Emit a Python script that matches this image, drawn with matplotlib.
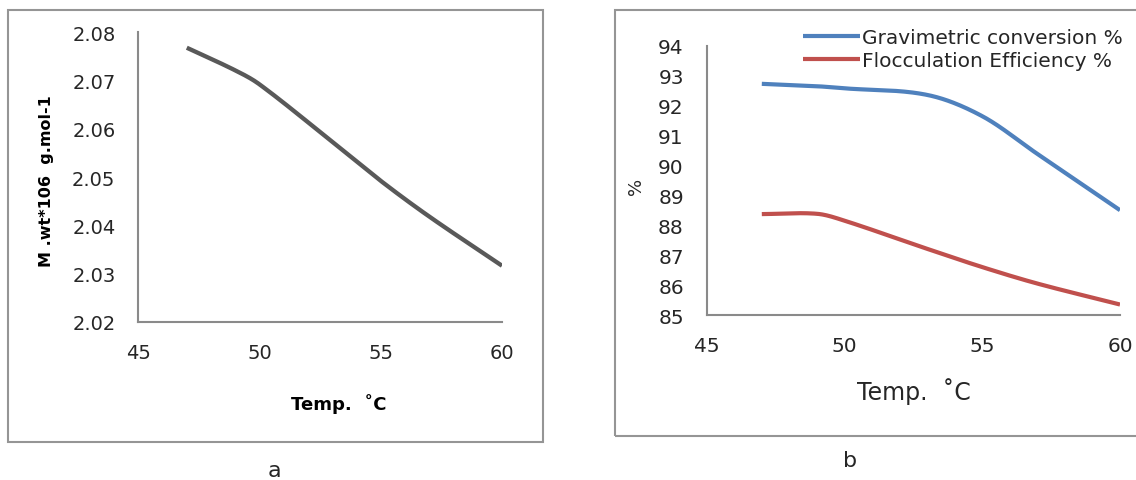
import numpy as np
import matplotlib
matplotlib.use("Agg")
import matplotlib.pyplot as plt
from matplotlib.patches import Rectangle

# ---- data -------------------------------------------------------------
temps_a = [47, 49, 50, 53, 55, 57, 60]
mol_weight = [2.0768, 2.0721, 2.0692, 2.0573, 2.0492, 2.0418, 2.0316]

temps_b = [47, 49, 50, 53, 55, 57, 60]
gravimetric = [92.72, 92.64, 92.57, 92.35, 91.64, 90.38, 88.50]
flocculation = [88.37, 88.38, 88.15, 87.21, 86.60, 86.05, 85.35]

x_ticks = [45, 50, 55, 60]
a_yticks = [2.02, 2.03, 2.04, 2.05, 2.06, 2.07, 2.08]
b_yticks = [85, 86, 87, 88, 89, 90, 91, 92, 93, 94]

labels_b = ["Gravimetric conversion %", "Flocculation Efficiency %"]

# ---- styling ------------------------------------------------------------
W, H = 1136, 481
GREY_LINE = "#595959"
BLUE = "#4F81BD"
RED = "#C0504D"
SPINE = "#8a8a8a"
FRAME = "#959595"
TEXT = "#262626"

plt.rcParams["font.family"] = ["DejaVu Sans"]


def smooth(xs, ys, n=40):
    """Piecewise cubic Hermite curve with centred-difference tangents."""
    x = np.asarray(xs, float)
    y = np.asarray(ys, float)
    m = np.empty_like(y)
    m[1:-1] = (y[2:] - y[:-2]) / (x[2:] - x[:-2])
    m[0] = (y[1] - y[0]) / (x[1] - x[0])
    m[-1] = (y[-1] - y[-2]) / (x[-1] - x[-2])
    ox, oy = [], []
    for i in range(len(x) - 1):
        h = x[i + 1] - x[i]
        t = np.linspace(0, 1, n, endpoint=(i == len(x) - 2))
        h00 = 2 * t**3 - 3 * t**2 + 1
        h10 = t**3 - 2 * t**2 + t
        h01 = -2 * t**3 + 3 * t**2
        h11 = t**3 - t**2
        ox.append(x[i] + t * h)
        oy.append(h00 * y[i] + h10 * h * m[i] + h01 * y[i + 1] + h11 * h * m[i + 1])
    return np.concatenate(ox), np.concatenate(oy)


def box(left, top, right, bottom):
    """Figure-fraction rectangle from pixel edges."""
    return [left / W, 1 - bottom / H, (right - left) / W, (bottom - top) / H]


def px(x, y):
    return x / W, 1 - y / H


fig = plt.figure(figsize=(W / 100, H / 100), dpi=100)
fig.patch.set_facecolor("white")

# outer frames around the two panels
for (l, t, r, b) in [(8, 11, 543, 443), (615, 11, 1150, 437)]:
    fig.add_artist(Rectangle((l / W, 1 - b / H), (r - l) / W, (b - t) / H,
                             transform=fig.transFigure, fill=False,
                             edgecolor=FRAME, linewidth=1.5))


def style_axes(ax, ypad, xpad, fsize):
    for s in ("top", "right"):
        ax.spines[s].set_visible(False)
    for s in ("left", "bottom"):
        ax.spines[s].set_color(SPINE)
        ax.spines[s].set_linewidth(1.5)
    ax.tick_params(axis="both", length=0, colors=TEXT, labelsize=fsize)
    ax.tick_params(axis="y", pad=ypad)
    ax.tick_params(axis="x", pad=xpad)
    ax.set_facecolor("none")


# ---- panel a ------------------------------------------------------------
ax1 = fig.add_axes(box(138.3, 33.3, 502, 322.7))
sx, sy = smooth(temps_a, mol_weight)
ax1.plot(sx, sy, color=GREY_LINE, linewidth=3.1, solid_capstyle="butt")
ax1.set_xlim(45, 60)
ax1.set_ylim(2.02, 2.08)
ax1.set_xticks(x_ticks)
ax1.set_yticks(a_yticks)
ax1.set_yticklabels([f"{v:.2f}" for v in a_yticks])
style_axes(ax1, 16.5, 15, 14)

fig.text(*px(46.7, 181.5), "M .wt*106  g.mol-1", rotation=90, ha="center",
         va="center", fontsize=11.5, fontweight="bold", color="black")
fig.text(*px(339, 404), "Temp.  ˚C", ha="center", va="center",
         fontsize=13, fontweight="bold", color="black")
fig.text(*px(274, 471), "a", ha="center", va="center", fontsize=16,
         color=TEXT)

# ---- panel b ------------------------------------------------------------
ax2 = fig.add_axes(box(706.7, 46.5, 1120, 316))
gx, gy = smooth(temps_b, gravimetric)
fx, fy = smooth(temps_b, flocculation)
h1, = ax2.plot(gx, gy, color=BLUE, linewidth=3.0, solid_capstyle="butt")
h2, = ax2.plot(fx, fy, color=RED, linewidth=3.0, solid_capstyle="butt")
ax2.set_xlim(45, 60)
ax2.set_ylim(85, 94)
ax2.set_xticks(x_ticks)
ax2.set_yticks(b_yticks)
style_axes(ax2, 16.5, 15, 14.5)
for lab in ax2.get_xticklabels() + ax2.get_yticklabels():
    lab.set_clip_on(False)

leg = ax2.legend([h1, h2], labels_b, loc="upper left",
                 bbox_to_anchor=px(803, 29), bbox_transform=fig.transFigure,
                 frameon=False, fontsize=14.5, handlelength=2.85,
                 handletextpad=0.1, labelspacing=0.2, borderpad=0,
                 borderaxespad=0)
for t in leg.get_texts():
    t.set_color(TEXT)

fig.text(*px(636, 186), "%", rotation=90, ha="center", va="center",
         fontsize=13, color=TEXT)
fig.text(*px(914, 392), "Temp.  ˚C", ha="center", va="center",
         fontsize=17, color=TEXT)
fig.text(*px(850, 461), "b", ha="center", va="center", fontsize=16,
         color=TEXT)

fig.savefig("out.png", dpi=100, facecolor="white")
